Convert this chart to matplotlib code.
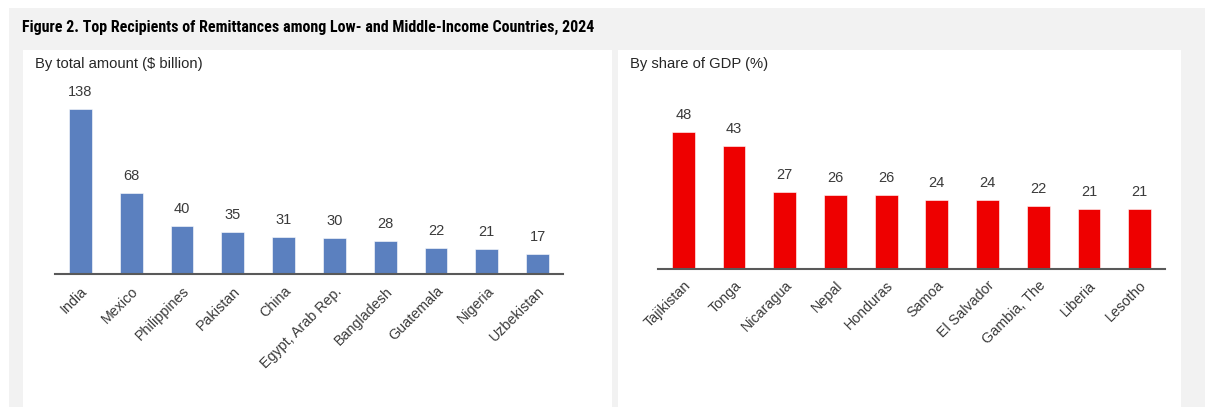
import numpy as np
import matplotlib.pyplot as plt
from matplotlib.patches import Rectangle
from matplotlib import font_manager

# Data
amount_countries = ['India', 'Mexico', 'Philippines', 'Pakistan', 'China',
                    'Egypt, Arab Rep.', 'Bangladesh', 'Guatemala', 'Nigeria', 'Uzbekistan']
amount_values = [138, 68, 40, 35, 31, 30, 28, 22, 21, 17]

gdp_countries = ['Tajikistan', 'Tonga', 'Nicaragua', 'Nepal', 'Honduras',
                 'Samoa', 'El Salvador', 'Gambia, The', 'Liberia', 'Lesotho']
gdp_values = [48, 43, 27, 26, 26, 24, 24, 22, 21, 21]

W, H = 1205, 407
BLUE = '#5b80bf'
RED = '#ee0000'
GRAY_BG = '#f2f2f2'
TXT = '#3a3a3a'

plt.rcParams['font.family'] = ['Liberation Sans', 'DejaVu Sans']

# condensed face for the title if one is around
names = {f.name for f in font_manager.fontManager.ttflist}
title_fam = [n for n in ['Liberation Sans Narrow', 'Roboto Condensed',
                         'Open Sans Condensed', 'DejaVu Sans Condensed'] if n in names]
title_fam = title_fam + ['Liberation Sans', 'DejaVu Sans']

fig = plt.figure(figsize=(W / 100, H / 100), dpi=100)
fig.patch.set_facecolor('white')


def box(x0, y0, x1, y1):
    # pixel box (top-left origin) -> figure fraction [left, bottom, width, height]
    return [x0 / W, 1 - y1 / H, (x1 - x0) / W, (y1 - y0) / H]


def add_rect(x0, y0, x1, y1, color):
    l, b, w, h = box(x0, y0, x1, y1)
    fig.add_artist(Rectangle((l, b), w, h, transform=fig.transFigure,
                             facecolor=color, edgecolor='none', zorder=-10))


# background panels
add_rect(9, 8, W, H, GRAY_BG)
add_rect(23, 50, 612, H, 'white')
add_rect(618, 50, 1181, H, 'white')

title = fig.text(22 / W, 1 - 27 / H,
                 'Figure 2. Top Recipients of Remittances among Low- and Middle-Income Countries, 2024',
                 fontsize=11.5, fontweight='bold', va='center', ha='left',
                 family=title_fam, color='black')
# shrink the title until it fits the reference width (~588 px)
fig.canvas.draw()
while title.get_window_extent().width > 590 and title.get_fontsize() > 7:
    title.set_fontsize(title.get_fontsize() - 0.25)

fig.text(35 / W, 1 - 64 / H, 'By total amount ($ billion)', fontsize=10.6,
         va='center', ha='left', color='#262626')
fig.text(630 / W, 1 - 64 / H, 'By share of GDP (%)', fontsize=10.6,
         va='center', ha='left', color='#262626')


def bar_panel(rect, cats, vals, color, ymax):
    ax = fig.add_axes(rect)
    ax.set_facecolor('none')
    x = np.arange(len(cats))
    ax.bar(x, vals, width=0.45, color=color, edgecolor='white', linewidth=0.4)
    for xi, v in zip(x, vals):
        ax.annotate(str(v), (xi, v), xytext=(0, 10), textcoords='offset pixels',
                    ha='center', va='bottom', fontsize=10.5, color=TXT)
    ax.set_xlim(-0.5, len(cats) - 0.5)
    ax.set_ylim(0, ymax)
    ax.set_xticks(x)
    ax.set_xticklabels(cats, rotation=45, ha='right', rotation_mode='anchor',
                       fontsize=10.3, color=TXT)
    ax.tick_params(axis='x', length=0, pad=7)
    ax.set_yticks([])
    for s in ['top', 'left', 'right']:
        ax.spines[s].set_visible(False)
    ax.spines['bottom'].set_color('#595959')
    ax.spines['bottom'].set_linewidth(1.5)
    return ax


# left: 1.2 px per unit, right: 2.84 px per unit
bar_panel(box(55, 60, 563, 274.3), amount_countries, amount_values, BLUE, (274.3 - 60) / 1.2)
bar_panel(box(658, 60, 1165, 268.5), gdp_countries, gdp_values, RED, (268.5 - 60) / 2.84)

fig.savefig('out.png', dpi=100)
